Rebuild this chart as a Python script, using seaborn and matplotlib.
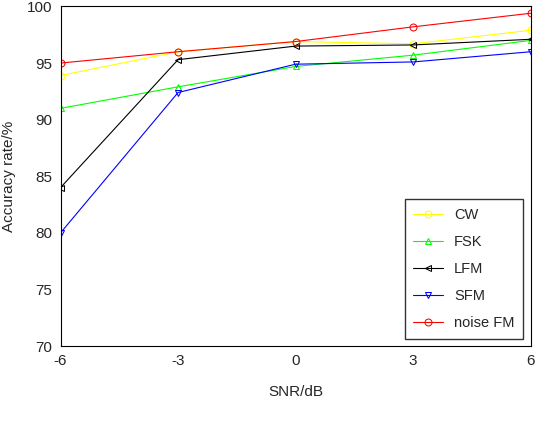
import matplotlib
matplotlib.use('Agg')
import matplotlib.pyplot as plt
import seaborn as sns
import pandas as pd

snr = [-6, -3, 0, 3, 6]
cw = [93.9, 96.0, 96.9, 96.7, 97.9]
fsk = [91.0, 92.9, 94.7, 95.7, 97.0]
lfm = [84.0, 95.3, 96.5, 96.6, 97.1]
sfm = [80.0, 92.4, 94.9, 95.1, 96.0]
noise_fm = [95.0, 96.0, 96.9, 98.2, 99.4]

series = {'CW': cw, 'FSK': fsk, 'LFM': lfm, 'SFM': sfm, 'noise FM': noise_fm}
colors = {'CW': '#ffff00', 'FSK': '#00ff00', 'LFM': '#000000', 'SFM': '#0000ff', 'noise FM': '#ff0000'}
markers = {'CW': 'o', 'FSK': '^', 'LFM': '<', 'SFM': 'v', 'noise FM': 'o'}

df = pd.DataFrame([(k, x, y) for k, v in series.items() for x, y in zip(snr, v)],
                  columns=['signal', 'snr', 'acc'])

sns.set_style('white')
plt.rcParams['font.family'] = ['Arial', 'Liberation Sans', 'DejaVu Sans']
plt.rcParams['axes.unicode_minus'] = False
fig, ax = plt.subplots(figsize=(5.5, 4.3), dpi=100)

for name in series:
    sub = df[df['signal'] == name]
    sns.lineplot(data=sub, x='snr', y='acc', ax=ax, color=colors[name], marker=markers[name],
                 markerfacecolor='none', markeredgecolor=colors[name], markersize=5,
                 linewidth=0.8, label=name)

ax.set_xlim(-6, 6)
ax.set_ylim(70, 100)
ax.set_xticks(snr)
ax.set_yticks(range(70, 101, 5))
ax.set_xlabel('SNR/dB', fontsize=11, labelpad=12)
ax.set_ylabel('Accuracy rate/%', fontsize=11, labelpad=8)
ax.tick_params(labelsize=11, direction='in', length=4, pad=6)
for s in ax.spines.values():
    s.set_color('black')
    s.set_linewidth(0.8)
ax.legend(loc='lower right', fontsize=10.5, frameon=True, fancybox=False, edgecolor='black',
          handlelength=2, borderpad=0.6, labelspacing=0.9)

plt.subplots_adjust(left=0.11, right=0.965, top=0.985, bottom=0.195)
plt.savefig('out.png', dpi=100)
